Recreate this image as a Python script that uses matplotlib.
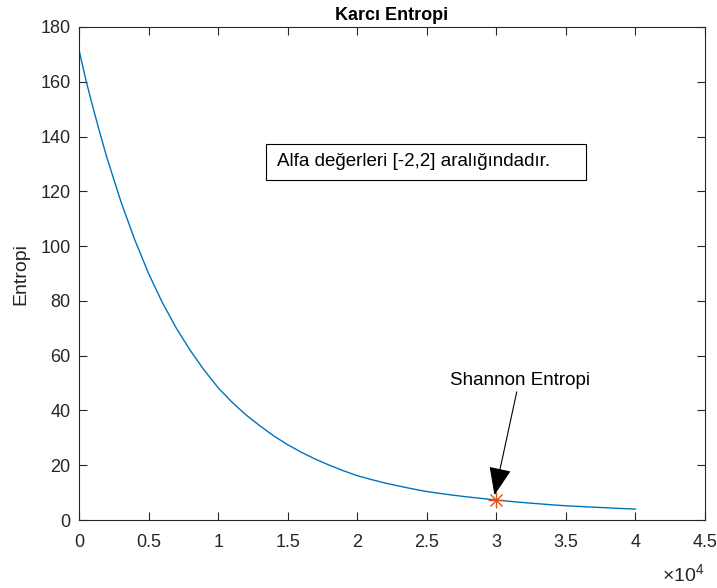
import numpy as np
import matplotlib
matplotlib.use("Agg")
import matplotlib.pyplot as plt
from matplotlib.ticker import FuncFormatter
from matplotlib.patches import Rectangle

plt.rcParams['font.family'] = ['Liberation Sans', 'DejaVu Sans']
plt.rcParams['mathtext.fontset'] = 'custom'
plt.rcParams['mathtext.rm'] = 'Liberation Sans'

# values
x_vals = [0, 500, 1000, 1500, 2000, 3000, 4000, 5000, 6000, 7000, 8000, 9000,
          10000, 11000, 12000, 13000, 14000, 15000, 16000, 17000, 18000, 19000,
          20000, 21000, 22000, 23000, 24000, 25000, 26000, 27000, 28000, 29000,
          30000, 31000, 32000, 33000, 34000, 35000, 36000, 37000, 38000, 39000,
          40000]
entropi = [171.6, 160.5, 150.7, 141.3, 132.4, 116.4, 102.4, 90.0, 79.3, 70.0,
           61.9, 54.7, 48.3, 43.0, 38.4, 34.4, 30.7, 27.5, 24.7, 22.2, 20.0,
           18.0, 16.2, 14.8, 13.5, 12.4, 11.35, 10.4, 9.68, 9.0, 8.4, 7.83, 7.3,
           6.8, 6.35, 5.95, 5.55, 5.2, 4.95, 4.7, 4.45, 4.2, 4.0]

shannon_x = [30000]
shannon_y = [7.3]

xticks = [0, 5000, 10000, 15000, 20000, 25000, 30000, 35000, 40000, 45000]
yticks = [0, 20, 40, 60, 80, 100, 120, 140, 160, 180]

dark = (0.15, 0.15, 0.15)

fig = plt.figure(figsize=(7.17, 5.88), dpi=100)
ax = fig.add_axes([0.1102, 0.1156, 0.8731, 0.8385])

ax.plot(x_vals, entropi, color='#0072BD', lw=1.0)
# matlab style asterisk marker
ax.plot(shannon_x, shannon_y, '+', color='#D95319', ms=11, mew=1.0)
ax.plot(shannon_x, shannon_y, 'x', color='#D95319', ms=8, mew=1.0)

ax.set_xlim(0, 45000)
ax.set_ylim(0, 180)
ax.set_xticks(xticks)
ax.set_yticks(yticks)
ax.xaxis.set_major_formatter(FuncFormatter(lambda v, p: '%g' % (v / 1e4)))
ax.tick_params(direction='in', top=True, right=True, length=6, width=0.8,
               labelsize=13, colors=dark, pad=6)
ax.tick_params(axis='x', pad=10)
for s in ax.spines.values():
    s.set_color(dark)
    s.set_linewidth(0.8)

ax.set_title('Karcı Entropi', fontsize=13, fontweight='bold', pad=5)
ax.set_ylabel('Entropi', fontsize=14, color=dark, labelpad=8)

fig.text(0.983, 1 - 575 / 588, r'$\times10^{4}$', fontsize=14, color=dark,
         ha='right', va='center')

# text box
fig.patches.append(Rectangle((0.3706, 0.6939), 0.4463, 0.0612,
                             transform=fig.transFigure, fill=False,
                             edgecolor='black', lw=0.8))
fig.text(0.386, 1 - 162 / 588, 'Alfa değerleri [-2,2] aralığındadır.',
         fontsize=13.5, ha='left', va='center')

# arrow + label
ax.annotate('', xy=(29864, 9.1), xytext=(31465, 46.8),
            arrowprops=dict(arrowstyle='-|>,head_length=0.8,head_width=0.32',
                            color='black', lw=0.8,
                            mutation_scale=22, shrinkA=0, shrinkB=0))
ax.text(31716, 51.1, 'Shannon Entropi', fontsize=13.5, ha='center',
        va='center')

fig.savefig('out.png', dpi=100)
